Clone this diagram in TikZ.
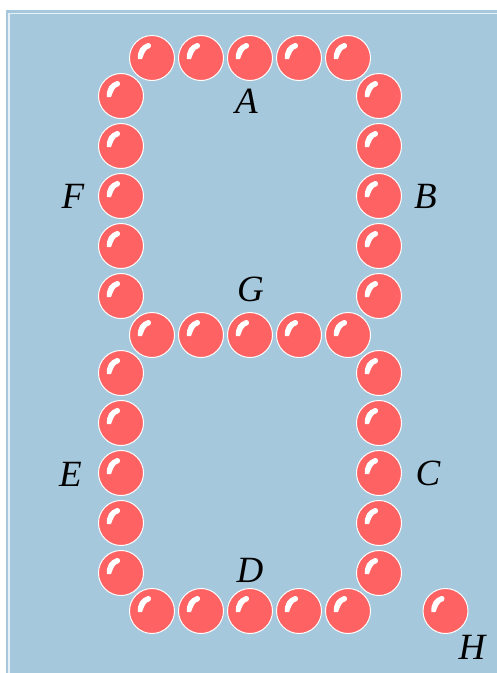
\documentclass[tikz,border=0pt]{standalone}
\usepackage{fontspec}
\setmainfont{Liberation Serif}
\definecolor{panelBlue}{HTML}{A6C8DC}
\definecolor{ledRed}{HTML}{FF6262}
\definecolor{frameLine}{HTML}{E6F0F6}

\begin{document}
\begin{tikzpicture}[
  x=1pt,y=-1pt,
  led/.style={circle,minimum size=45pt,inner sep=0pt,fill=ledRed,draw=white,line width=1pt,
              path picture={\fill[white,shift={(path picture bounding box.center)}]
                (-14,1) .. controls (-15,-7) and (-11,-13) .. (-4,-15)
                .. controls (-1,-15) and (0,-12) .. (-2,-10)
                .. controls (-7,-9) and (-8,-4) .. (-10,1) -- cycle;}},
  seglabel/.style={font=\fontsize{37}{40}\selectfont\itshape,inner sep=0pt}
]
% ---- Panel ----
\useasboundingbox (0,0) rectangle (497,673);
\fill[white] (0,0) rectangle (497,673);
\fill[panelBlue] (6,10) rectangle (497,673);
\draw[frameLine,line width=1.5pt] (9,673) -- (9,13.5) -- (497,13.5);

% ---- Horizontal segments A, G, D ----
\foreach \i [evaluate=\i as \x using 152+49*(\i-1)] in {1,...,5} {
  \node[led] (a\i) at (\x,58)  {};
  \node[led] (g\i) at (\x,335) {};
  \node[led] (d\i) at (\x,611) {};
}

% ---- Vertical segments F, B, E, C ----
\foreach \i [evaluate=\i as \y using 96+50*(\i-1)] in {1,...,5} {
  \node[led] (f\i) at (121,\y)     {};
  \node[led] (b\i) at (379,\y)     {};
  \node[led] (e\i) at (121,\y+277) {};
  \node[led] (c\i) at (379,\y+277) {};
}

% ---- Decimal point ----
\node[led] (h) at (445.5,611) {};

% ---- Segment labels ----
\node[seglabel] (labA) at (246.5,101) {A};
\node[seglabel] (labB) at (425.5,196.5) {B};
\node[seglabel] (labF) at (73,196) {F};
\node[seglabel] (labG) at (250.5,289) {G};
\node[seglabel] (labC) at (428,473) {C};
\node[seglabel] (labE) at (70.5,474) {E};
\node[seglabel] (labD) at (250,570) {D};
\node[seglabel] (labH) at (472,647) {H};
\end{tikzpicture}
\end{document}
